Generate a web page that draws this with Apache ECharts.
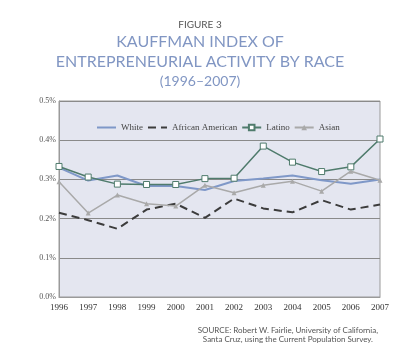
<!DOCTYPE html>
<html><head><meta charset="utf-8">
<script src="https://cdn.jsdelivr.net/npm/echarts@6/dist/echarts.min.js"></script>
<style>html,body{margin:0;padding:0;background:#fff}#c{width:400px;height:352px}</style>
</head><body><div id="c"></div>
<script>
var years = ['1996','1997','1998','1999','2000','2001','2002','2003','2004','2005','2006','2007'];
var white = [0.330,0.297,0.310,0.283,0.283,0.273,0.296,0.302,0.310,0.298,0.289,0.300];
var africanAmerican = [0.215,0.196,0.174,0.223,0.238,0.202,0.251,0.226,0.216,0.247,0.223,0.236];
var latino = [0.333,0.306,0.288,0.287,0.287,0.302,0.303,0.385,0.344,0.320,0.332,0.403];
var asian = [0.294,0.214,0.260,0.238,0.232,0.285,0.266,0.285,0.295,0.270,0.321,0.298];
var yTicks = [0, 0.1, 0.2, 0.3, 0.4, 0.5];

var chart = echarts.init(document.getElementById('c'), null, {renderer:'canvas'});
var serif = '"Liberation Serif", "DejaVu Serif", serif';
var sans = 'Lato, "Open Sans", sans-serif';
chart.setOption({
  animation:false,
  backgroundColor:'#ffffff',
  title:[
    {text:'FIGURE 3', left:'center', top:15, textStyle:{fontFamily:sans, fontSize:10, fontWeight:'normal', color:'#555'}},
    {text:'KAUFFMAN INDEX OF', left:'center', top:29, textStyle:{fontFamily:sans, fontSize:16, fontWeight:'normal', color:'#8196c3'}},
    {text:'ENTREPRENEURIAL ACTIVITY BY RACE', left:'center', top:49, textStyle:{fontFamily:sans, fontSize:16, fontWeight:'normal', color:'#8196c3'}},
    {text:'(1996–2007)', left:'center', top:69, textStyle:{fontFamily:sans, fontSize:14, fontWeight:'normal', color:'#8196c3'}},
    {text:'SOURCE: Robert W. Fairlie, University of California,', right:17, top:321, textStyle:{fontFamily:sans, fontSize:8, fontWeight:'normal', color:'#555'}},
    {text:'Santa Cruz, using the Current Population Survey.', right:22, top:330, textStyle:{fontFamily:sans, fontSize:8, fontWeight:'normal', color:'#555'}}
  ],
  legend:{
    top:118, left:91, itemWidth:19, itemHeight:7, itemGap:4,
    textStyle:{fontFamily:serif, fontSize:9, color:'#444'},
    data:[
      {name:'White', itemStyle:{opacity:0}},
      {name:'African American', itemStyle:{opacity:0}},
      'Latino','Asian']
  },
  grid:{left:59, right:20, top:101, bottom:55, show:true, backgroundColor:'#e4e6f0', borderColor:'#9a9a9a', borderWidth:1},
  xAxis:{
    type:'category', data:years, boundaryGap:false,
    axisLine:{lineStyle:{color:'#9a9a9a'}}, axisTick:{show:false},
    axisLabel:{fontFamily:serif, fontSize:9, color:'#333', margin:6, interval:0}
  },
  yAxis:{
    type:'value', min:yTicks[0], max:yTicks[yTicks.length-1], interval:0.1,
    axisLine:{show:true, lineStyle:{color:'#9a9a9a'}}, axisTick:{show:false},
    splitLine:{lineStyle:{color:'#8a8a8a', width:1}},
    axisLabel:{fontFamily:serif, fontSize:8, color:'#555', margin:3, formatter:function(v){return v.toFixed(1)+'%';}}
  },
  series:[
    {name:'White', type:'line', data:white, symbol:'none', color:'#7f98c8', lineStyle:{width:2, color:'#7f98c8'}},
    {name:'African American', type:'line', data:africanAmerican, symbol:'none', color:'#3c3c3c', lineStyle:{width:2, type:[8,5], color:'#3c3c3c'}},
    {name:'Latino', type:'line', data:latino, symbol:'rect', symbolSize:6, color:'#4f7b6c', itemStyle:{color:'#ffffff', borderColor:'#4f7b6c', borderWidth:1}, lineStyle:{width:1.5, color:'#4f7b6c'}},
    {name:'Asian', type:'line', data:asian, symbol:'triangle', symbolSize:5, color:'#a9a9a9', itemStyle:{color:'#a9a9a9'}, lineStyle:{width:1.5, color:'#a9a9a9'}}
  ]
});
</script></body></html>
